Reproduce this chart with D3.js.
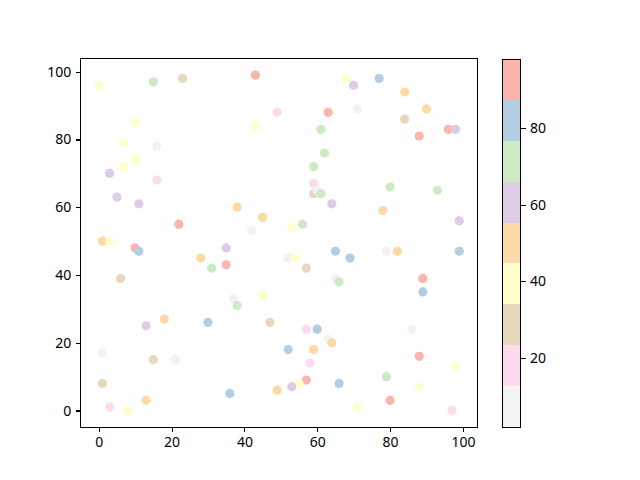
<!DOCTYPE html>
<html lang="en">
<head>
<meta charset="UTF-8">
<title>Scatter with Pastel1 colorbar</title>
<style>
  body { margin: 0; background: #fff; }
  svg { display: block; }
  .axis text { font: 14px "Noto Sans", sans-serif; fill: #000; }
  .axis path, .axis line { stroke: #000; stroke-width: 1.1px; shape-rendering: crispEdges; }
</style>
</head>
<body>
<svg id="chart" width="640" height="480"></svg>
<script src="https://d3js.org/d3.v7.min.js"></script>
<script>
// point data
var xs = [0, 15, 23, 43, 49, 10, 43, 7, 16, 10, 7, 3, 16, 5, 11, 38, 45, 42, 22, 1, 3, 10, 35,
  11, 28, 31, 35, 6, 45, 37, 38, 18, 30, 47, 13, 1, 15, 21, 1, 36, 49, 13, 3, 8,
  68, 70, 77, 84, 63, 71, 90, 84, 61, 96, 98, 88, 62, 59, 59, 59, 60, 61, 80, 93, 64, 78, 99, 53, 56,
  52, 54, 57, 65, 69, 79, 82, 99, 65, 66, 89, 89, 57, 60, 86, 63, 64, 52, 59, 88, 58, 98, 79, 57, 55, 53, 66, 88, 80, 71, 97];
var ys = [96, 97, 98, 99, 88, 85, 84, 79, 78, 74, 72, 70, 68, 63, 61, 60, 57, 53, 55, 50, 50, 48, 48,
  47, 45, 42, 43, 39, 34, 33, 31, 27, 26, 26, 25, 17, 15, 15, 8, 5, 6, 3, 1, 0,
  98, 96, 98, 94, 88, 89, 89, 86, 83, 83, 83, 81, 76, 72, 67, 64, 65, 64, 66, 65, 61, 59, 56, 54, 55,
  45, 45, 42, 47, 45, 47, 47, 47, 39, 38, 39, 35, 24, 24, 24, 21, 20, 18, 18, 16, 14, 13, 10, 9, 8, 7, 8, 7, 3, 1, 0];
var cs = [39, 71, 29, 93, 18, 39, 39, 39, 7, 39, 39, 61, 18, 61, 61, 50, 50, 7, 93, 50, 39, 93, 61,
  82, 50, 71, 93, 29, 39, 7, 71, 50, 82, 29, 61, 7, 29, 7, 29, 82, 50, 50, 18, 39,
  39, 61, 82, 50, 93, 7, 50, 29, 71, 93, 61, 93, 71, 71, 18, 29, 7, 71, 71, 71, 61, 50, 61, 39, 71,
  7, 39, 29, 82, 82, 7, 50, 82, 7, 71, 93, 82, 18, 82, 7, 7, 50, 82, 50, 93, 18, 39, 71, 93, 39, 61, 82, 39, 93, 39, 18];

var colorExtent = [2, 98];
var cbTicks = [20, 40, 60, 80];
var axisTicks = [0, 20, 40, 60, 80, 100];
// Pastel1 reversed
var pastel = ["#f2f2f2", "#fddaec", "#e5d8bd", "#ffffcc", "#fed9a6", "#decbe4", "#ccebc5", "#b3cde3", "#fbb4ae"];

var svg = d3.select("#chart");

var plotL = 80.7, plotR = 477.3, plotT = 58.3, plotB = 427.3;

var x = d3.scaleLinear().domain([-4.95, 103.95]).range([plotL, plotR]);
var y = d3.scaleLinear().domain([-4.95, 103.95]).range([plotB, plotT]);
var color = d3.scaleQuantize().domain(colorExtent).range(pastel);

var pts = xs.map(function(d, i) { return {x: d, y: ys[i], c: cs[i]}; });

svg.append("g")
  .selectAll("circle")
  .data(pts)
  .enter().append("circle")
  .attr("cx", function(d) { return x(d.x); })
  .attr("cy", function(d) { return y(d.y); })
  .attr("r", 4.6)
  .style("fill", function(d) { return color(d.c); });

// frame
svg.append("rect")
  .attr("x", plotL).attr("y", plotT)
  .attr("width", plotR - plotL).attr("height", plotB - plotT)
  .style("fill", "none").style("stroke", "#000").style("stroke-width", 1.1)
  .style("shape-rendering", "crispEdges");

svg.append("g")
  .attr("class", "axis")
  .attr("transform", "translate(0," + plotB + ")")
  .call(d3.axisBottom(x).tickValues(axisTicks).tickSize(4.9).tickPadding(4.5))
  .call(function(g) { g.select(".domain").remove(); });

svg.append("g")
  .attr("class", "axis")
  .attr("transform", "translate(" + plotL + ",0)")
  .call(d3.axisLeft(y).tickValues(axisTicks).tickSize(4.9).tickPadding(4.5))
  .call(function(g) { g.select(".domain").remove(); });

// colorbar
var cbLeft = 502.3, cbRight = 520.7;
var cbY = d3.scaleLinear().domain(colorExtent).range([427, 59]);
var bands = pastel.map(function(c) {
  var ext = color.invertExtent(c);
  return {c: c, lo: ext[0], hi: ext[1]};
});

svg.append("g")
  .selectAll("rect")
  .data(bands)
  .enter().append("rect")
  .attr("x", cbLeft)
  .attr("width", cbRight - cbLeft)
  .attr("y", function(d) { return cbY(d.hi); })
  .attr("height", function(d) { return cbY(d.lo) - cbY(d.hi); })
  .style("fill", function(d) { return d.c; })
  .style("shape-rendering", "crispEdges");

svg.append("rect")
  .attr("x", cbLeft).attr("y", cbY(colorExtent[1]))
  .attr("width", cbRight - cbLeft)
  .attr("height", cbY(colorExtent[0]) - cbY(colorExtent[1]))
  .style("fill", "none").style("stroke", "#000").style("stroke-width", 1)
  .style("shape-rendering", "crispEdges");

svg.append("g")
  .attr("class", "axis")
  .attr("transform", "translate(" + cbRight + ",0)")
  .call(d3.axisRight(cbY).tickValues(cbTicks).tickSize(4.9).tickPadding(4.5))
  .call(function(g) { g.select(".domain").remove(); });
</script>
</body>
</html>
